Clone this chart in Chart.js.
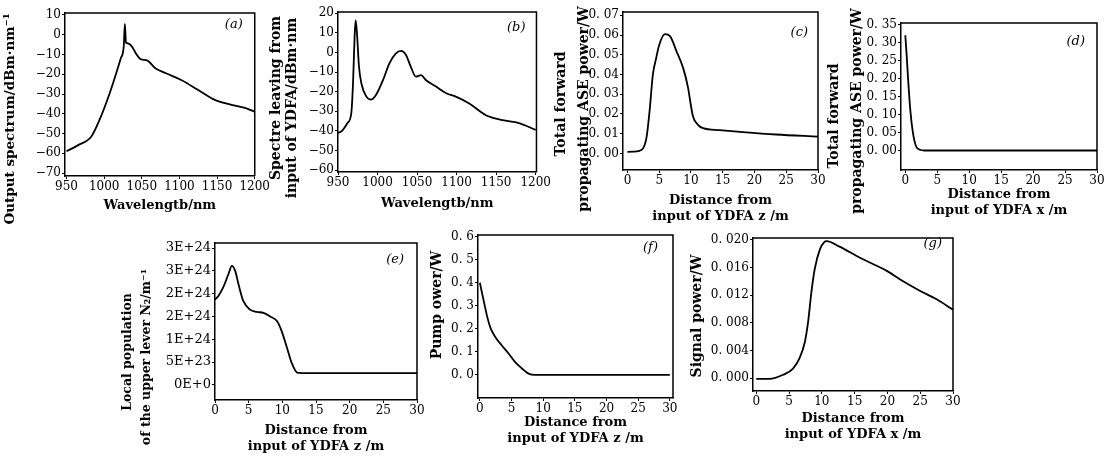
<!DOCTYPE html>
<html>
<head>
<meta charset="utf-8">
<script src="https://cdn.jsdelivr.net/npm/chart.js@4.4.0/dist/chart.umd.min.js"></script>
<style>
body { margin: 0; background: #fff; width: 1107px; height: 461px; position: relative; overflow: hidden; }
canvas { position: absolute; }
</style>
</head>
<body>
<script>
// tick values shared by the panels
const waveTicks = [950, 1000, 1050, 1100, 1150, 1200];
const distTicks = [0, 5, 10, 15, 20, 25, 30];

// (a) output spectrum
const aWave = [950, 965, 983, 994, 1007, 1016, 1022, 1026, 1027.5, 1029, 1031, 1037, 1042, 1048.5, 1057, 1068, 1082, 1103, 1125, 1147, 1169, 1187, 1200];
const aDbm = [-59, -56, -51.5, -43, -30, -19.5, -12, -6, 5.5, -4, -4.3, -6, -9.4, -12.4, -13, -17, -19.5, -23, -28, -33, -35.5, -37, -39];
const aYTicks = [-70, -60, -50, -40, -30, -20, -10, 0, 10];
const aYLabels = ['−70', '−60', '−50', '−40', '−30', '−20', '−10', '0', '10'];

// (b) spectrum leaving from input
const bWave = [950, 955, 962, 966.8, 969, 971, 972.3, 974, 976.5, 979.5, 986, 992, 998, 1007, 1015, 1023, 1030, 1036, 1042, 1048.5, 1055, 1061, 1074, 1087, 1099, 1116, 1137, 1158, 1179, 1200];
const bDbm = [-41, -40, -36, -31, -15.7, 8, 16.5, 9.8, -7, -15.7, -22.5, -24, -21.7, -14, -5.5, -0.5, 0.8, -1.3, -7.2, -12.3, -11.5, -14, -17.4, -20.8, -22.5, -26, -32, -34.5, -36, -39.5];
const bYTicks = [-60, -50, -40, -30, -20, -10, 0, 10, 20];
const bYLabels = ['−60', '−50', '−40', '−30', '−20', '−10', '0', '10', '20'];

// (c) forward ASE
const cDist = [0, 1, 2.2, 3, 3.5, 4, 4.5, 5, 5.9, 6.7, 7.7, 8.8, 9.5, 10.3, 11.1, 11.9, 14.5, 18.2, 23.4, 30];
const cPower = [0.0008, 0.0009, 0.0017, 0.008, 0.022, 0.040, 0.048, 0.055, 0.0605, 0.0595, 0.052, 0.043, 0.034, 0.019, 0.0145, 0.0128, 0.0118, 0.0108, 0.0096, 0.0085];
const cYTicks = [0, 0.01, 0.02, 0.03, 0.04, 0.05, 0.06, 0.07];
const cYLabels = ['0. 00', '0. 01', '0. 02', '0. 03', '0. 04', '0. 05', '0. 06', '0. 07'];

// (d) ASE, second plot
const dDist = [0, 0.2, 0.4, 0.8, 1.2, 1.7, 2.3, 3, 30];
const dPower = [0.32, 0.27, 0.21, 0.11, 0.05, 0.012, 0.003, 0.001, 0.001];
const dYTicks = [0, 0.05, 0.1, 0.15, 0.2, 0.25, 0.3, 0.35];
const dYLabels = ['0. 00', '0. 05', '0. 10', '0. 15', '0. 20', '0. 25', '0. 30', '0. 35'];

// (e) upper level population
const eDist = [0, 0.5, 1.2, 2.0, 2.5, 3.0, 3.5, 4.2, 5.2, 6.2, 7.2, 8.2, 9.2, 9.9, 10.7, 11.4, 12.2, 12.9, 30];
const eN2 = [1.87e24, 1.95e24, 2.13e24, 2.43e24, 2.61e24, 2.5e24, 2.2e24, 1.84e24, 1.65e24, 1.6e24, 1.58e24, 1.5e24, 1.4e24, 1.18e24, 0.81e24, 0.48e24, 0.27e24, 0.26e24, 0.26e24];
const eYTicks = [0, 5e23, 1e24, 1.5e24, 2e24, 2.5e24, 3e24];
const eYLabels = ['0E+0', '5E+23', '1E+24', '2E+24', '2E+24', '3E+24', '3E+24'];

// (f) pump power
const fDist = [0, 0.3, 0.63, 1.15, 1.7, 2.4, 3.4, 4.5, 5.5, 6.6, 7.6, 8.7, 30];
const fPump = [0.40, 0.36, 0.318, 0.253, 0.202, 0.166, 0.13, 0.094, 0.058, 0.029, 0.007, 0.0, 0.0];
const fYTicks = [0, 0.1, 0.2, 0.3, 0.4, 0.5, 0.6];
const fYLabels = ['0. 0', '0. 1', '0. 2', '0. 3', '0. 4', '0. 5', '0. 6'];

// (g) signal power
const gDist = [0, 2, 4.1, 5.6, 6.6, 7.4, 7.9, 8.4, 8.9, 9.7, 10.4, 10.7, 12.7, 15.8, 19.9, 22.4, 25, 27.5, 30];
const gSignal = [-0.0001, -0.0001, 0.0005, 0.0014, 0.0029, 0.0052, 0.0081, 0.0124, 0.0157, 0.0186, 0.0197, 0.0198, 0.019, 0.0174, 0.0155, 0.014, 0.0126, 0.0114, 0.0099];
const gYTicks = [0, 0.004, 0.008, 0.012, 0.016, 0.020];
const gYLabels = ['0. 000', '0. 004', '0. 008', '0. 012', '0. 016', '0. 020'];

Chart.defaults.font.family = "'DejaVu Serif', 'Liberation Serif', serif";
Chart.defaults.color = '#000';

const titleFont = { size: 13, weight: 'bold', lineHeight: 1.2 };

// box top/right edges, the (a)..(g) tag and the rotated y titles
const framePlugin = {
  id: 'panelTag',
  afterDraw(chart, args, opts) {
    const { ctx, chartArea: a } = chart;
    ctx.save();
    ctx.strokeStyle = '#000';
    ctx.lineWidth = 1.5;
    ctx.beginPath();
    ctx.moveTo(a.left, a.top);
    ctx.lineTo(a.right, a.top);
    ctx.lineTo(a.right, a.bottom);
    ctx.stroke();
    ctx.fillStyle = '#000';
    ctx.font = "italic 13px 'DejaVu Serif'";
    ctx.textAlign = 'right';
    ctx.textBaseline = 'middle';
    ctx.fillText(opts.text, a.right - opts.dx, a.top + opts.dy);

    ctx.font = 'bold ' + opts.yTitleSize + "px 'DejaVu Serif'";
    ctx.textAlign = 'center';
    opts.yTitle.forEach((line, i) => {
      ctx.save();
      ctx.translate(opts.yTitleX[i] - opts.ox, opts.yTitleY[i] - opts.oy);
      ctx.rotate(-Math.PI / 2);
      ctx.fillText(line, 0, 0);
      ctx.restore();
    });
    ctx.restore();
  }
};

function makePanel(p) {
  const w = p.box[2] - p.box[0] + p.lm + p.rm;
  const h = p.box[3] - p.box[1] + p.tm + p.bm;
  const ox = p.box[0] - p.lm;
  const oy = p.box[1] - p.tm;
  const cv = document.createElement('canvas');
  cv.width = w;
  cv.height = h;
  cv.style.left = ox + 'px';
  cv.style.top = oy + 'px';
  document.body.appendChild(cv);

  const pts = p.xs.map((x, i) => ({ x: x, y: p.ys[i] }));
  const tickFont = { size: p.tickSize || 12 };

  new Chart(cv, {
    type: 'line',
    data: {
      datasets: [{
        data: pts,
        borderColor: '#000',
        borderWidth: 1.8,
        pointRadius: 0,
        fill: false,
        cubicInterpolationMode: 'monotone'
      }]
    },
    options: {
      responsive: false,
      animation: false,
      devicePixelRatio: 1,
      layout: { padding: { left: 0, top: p.tm, right: p.rm, bottom: 0 } },
      plugins: {
        legend: { display: false },
        tooltip: { enabled: false },
        panelTag: {
          text: p.tag, dx: p.tagDx, dy: p.tagDy, ox: ox, oy: oy,
          yTitle: p.yTitle, yTitleX: p.yTitleX, yTitleY: p.yTitleY, yTitleSize: p.yTitleSize || 14
        }
      },
      scales: {
        x: {
          type: 'linear',
          min: p.xMin,
          max: p.xMax,
          afterBuildTicks: s => { s.ticks = p.xTicks.map(v => ({ value: v })); },
          afterFit: s => { s.height = p.bm; },
          ticks: { font: { size: 12 }, padding: 1, maxRotation: 0, autoSkip: false, callback: v => v },
          grid: { drawOnChartArea: false, tickLength: 3, color: '#000' },
          border: { color: '#000', width: 1.5 },
          title: { display: true, text: p.xTitle, font: titleFont, padding: { top: 0, bottom: p.xtPad || 2 } }
        },
        y: {
          min: p.yMin,
          max: p.yMax,
          afterBuildTicks: s => { s.ticks = p.yTicks.map(v => ({ value: v })); },
          afterFit: s => { s.width = p.lm; },
          ticks: { font: tickFont, padding: 1, autoSkip: false, callback: (v, i) => p.yLabels[i] },
          grid: { drawOnChartArea: false, tickLength: 3, color: '#000' },
          border: { color: '#000', width: 1.5 }
        }
      }
    },
    plugins: [framePlugin]
  });
}

makePanel({
  tag: '(a)', tagDx: 12, tagDy: 12,
  box: [65, 13, 257, 176], lm: 65, tm: 10, rm: 14, bm: 53, xtPad: 16,
  xs: aWave, ys: aDbm, xMin: 948, xMax: 1200, xTicks: waveTicks,
  yMin: -71.5, yMax: 11, yTicks: aYTicks, yLabels: aYLabels,
  xTitle: 'Wavelengtb/nm',
  yTitle: ['Output spectrum/dBm·nm⁻¹'], yTitleX: [10], yTitleY: [119], yTitleSize: 13.5
});

makePanel({
  tag: '(b)', tagDx: 11, tagDy: 16,
  box: [338, 12, 538, 172], lm: 72, tm: 10, rm: 14, bm: 41,
  xs: bWave, ys: bDbm, xMin: 950, xMax: 1201, xTicks: waveTicks,
  yMin: -61, yMax: 20.7, yTicks: bYTicks, yLabels: bYLabels,
  xTitle: 'Wavelengtb/nm',
  yTitle: ['Spectre leaving from', 'input of YDFA/dBm·nm'], yTitleX: [276, 292], yTitleY: [98, 108]
});

makePanel({
  tag: '(c)', tagDx: 10, tagDy: 21,
  box: [623, 12, 818, 170], lm: 73, tm: 10, rm: 14, bm: 56,
  xs: cDist, ys: cPower, xMin: -0.7, xMax: 30, xTicks: distTicks,
  yMin: -0.0084, yMax: 0.0717, yTicks: cYTicks, yLabels: cYLabels,
  xTitle: ['Distance from', 'input of YDFA z /m'],
  yTitle: ['Total forward', 'propagating ASE power/W'], yTitleX: [561, 584], yTitleY: [104, 109]
});

makePanel({
  tag: '(d)', tagDx: 12, tagDy: 19,
  box: [901, 23, 1097, 170], lm: 78, tm: 20, rm: 10, bm: 50,
  xs: dDist, ys: dPower, xMin: -0.67, xMax: 30, xTicks: distTicks,
  yMin: -0.053, yMax: 0.354, yTicks: dYTicks, yLabels: dYLabels,
  xTitle: ['Distance from', 'input of YDFA x /m'],
  yTitle: ['Total forward', 'propagating ASE power/W'], yTitleX: [834, 857], yTitleY: [116, 111]
});

makePanel({
  tag: '(e)', tagDx: 13, tagDy: 17, tickSize: 13,
  box: [215, 243, 417, 400], lm: 98, tm: 14, rm: 14, bm: 61, xtPad: 7,
  xs: eDist, ys: eN2, xMin: 0, xMax: 30, xTicks: distTicks,
  yMin: -0.33e24, yMax: 3.11e24, yTicks: eYTicks, yLabels: eYLabels,
  xTitle: ['Distance from', 'input of YDFA z /m'],
  yTitle: ['Local population', 'of the upper lever N₂/m⁻¹'], yTitleX: [128, 147], yTitleY: [352, 357], yTitleSize: 12.5
});

makePanel({
  tag: '(f)', tagDx: 15, tagDy: 13,
  box: [478, 235, 673, 398], lm: 51, tm: 10, rm: 14, bm: 50,
  xs: fDist, ys: fPump, xMin: -0.3, xMax: 30.5, xTicks: distTicks,
  yMin: -0.1, yMax: 0.607, yTicks: fYTicks, yLabels: fYLabels,
  xTitle: ['Distance from', 'input of YDFA z /m'],
  yTitle: ['Pump ower/W'], yTitleX: [437], yTitleY: [305]
});

makePanel({
  tag: '(g)', tagDx: 11, tagDy: 6,
  box: [753, 238, 953, 391], lm: 66, tm: 10, rm: 14, bm: 53,
  xs: gDist, ys: gSignal, xMin: -0.5, xMax: 30, xTicks: distTicks,
  yMin: -0.00184, yMax: 0.02025, yTicks: gYTicks, yLabels: gYLabels,
  xTitle: ['Distance from', 'input of YDFA x /m'],
  yTitle: ['Signal power/W'], yTitleX: [697], yTitleY: [316]
});
</script>
</body>
</html>
